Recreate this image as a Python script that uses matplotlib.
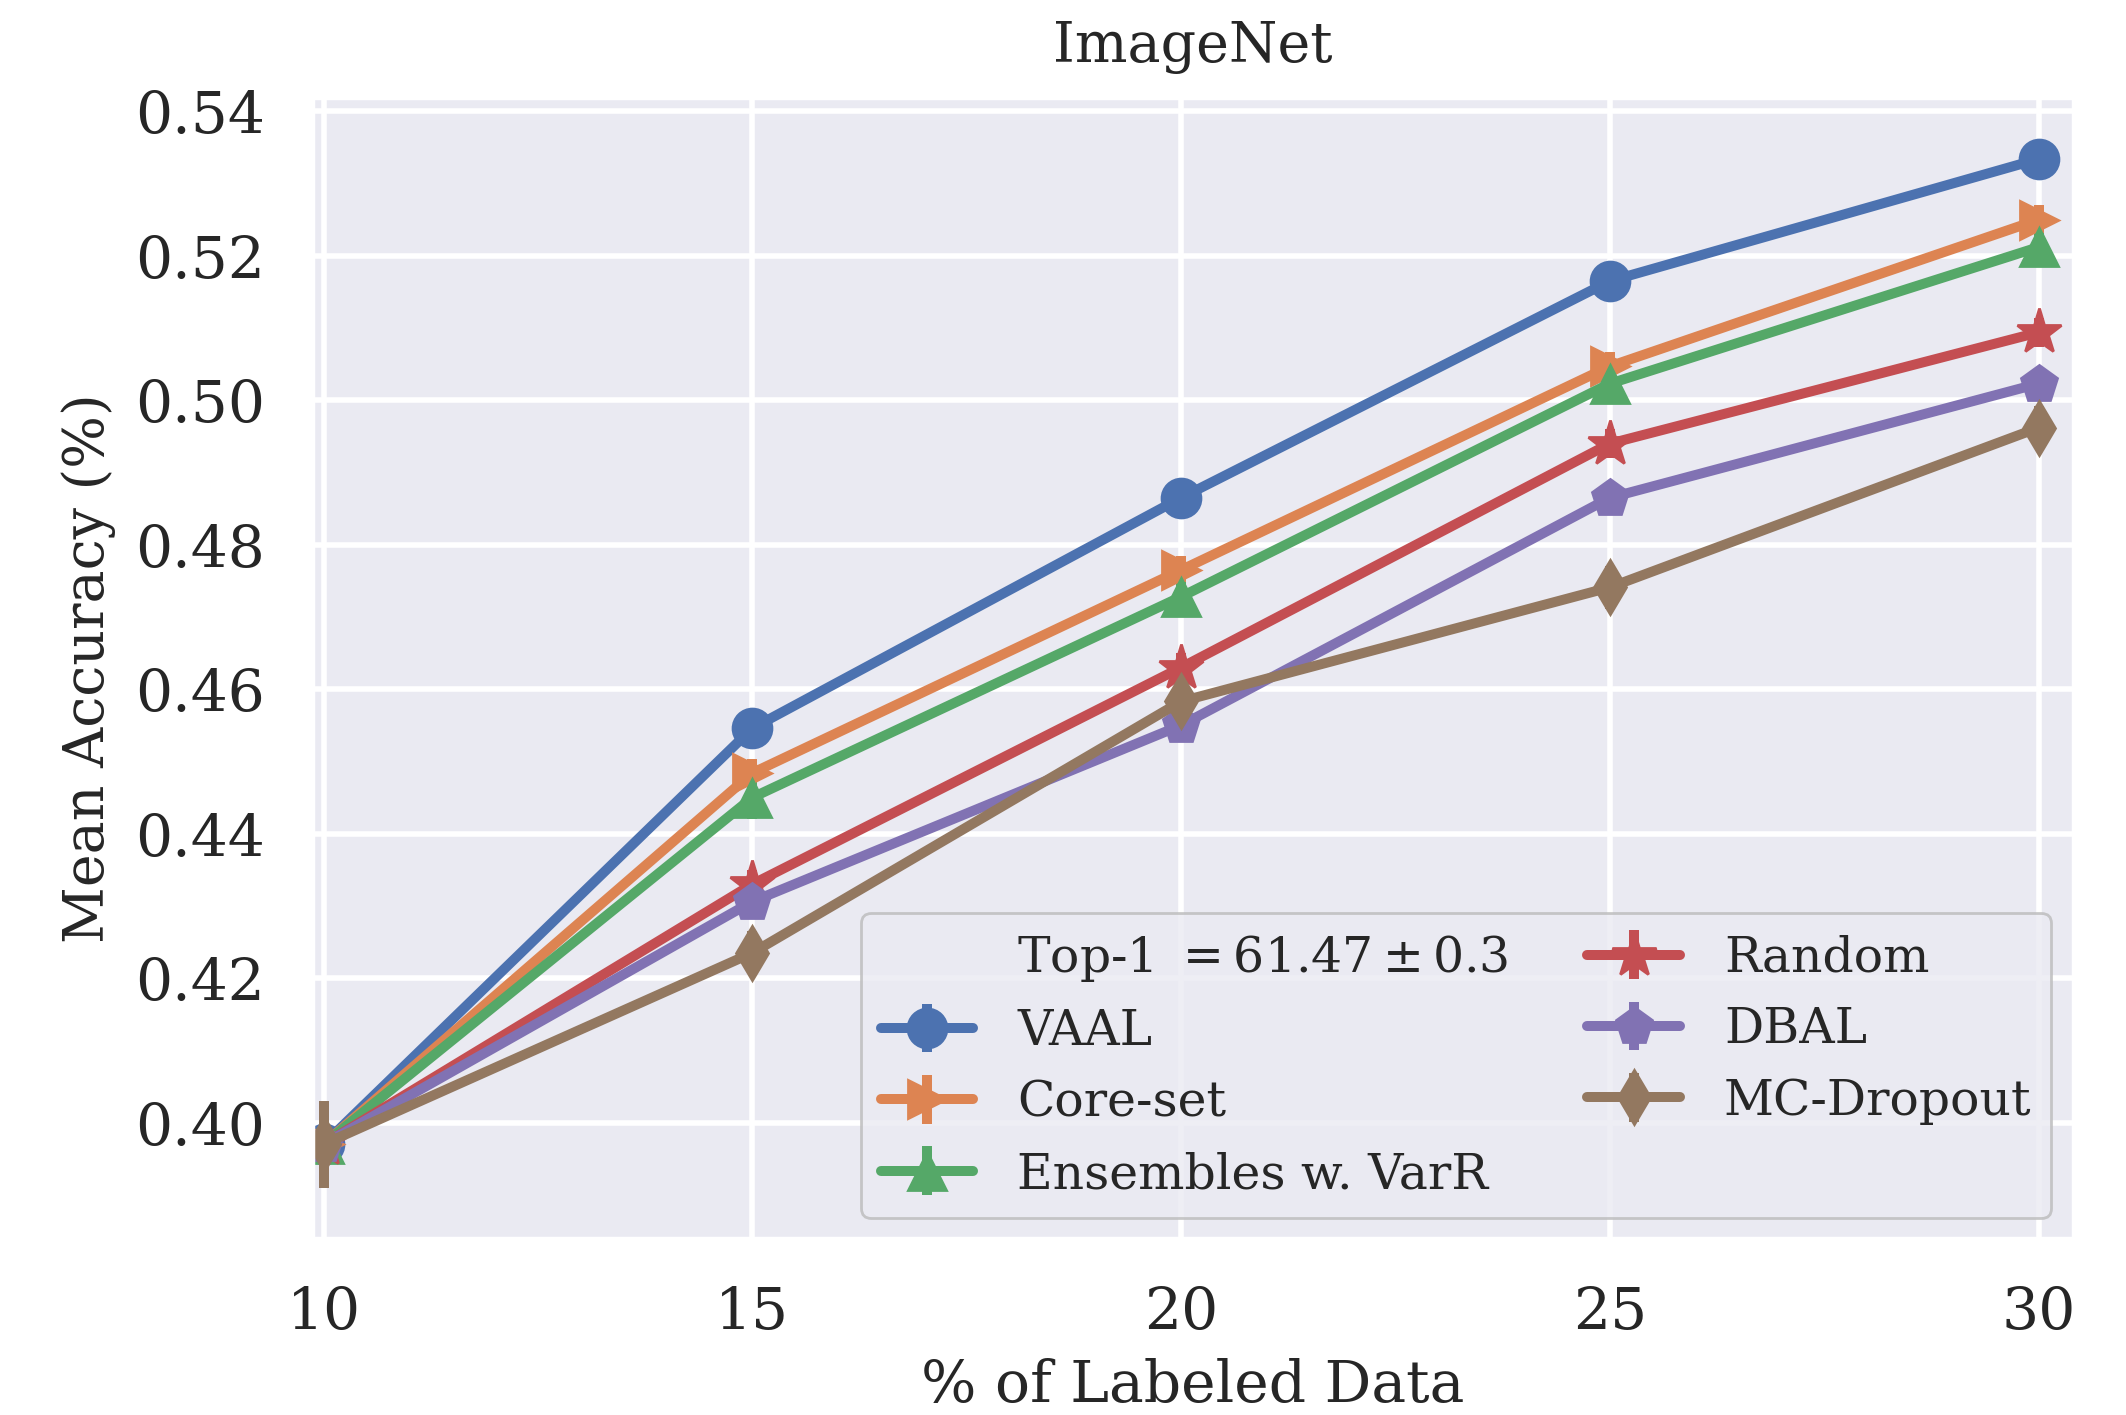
import matplotlib.pyplot as plt
import seaborn as sns

# Mean accuracy on ImageNet for each sampling method
budget = [10, 15, 20, 25, 30]
methods = ['VAAL', 'Core-set', 'Ensembles w. VarR', 'Random', 'DBAL', 'MC-Dropout']
markers = ['o', '>', '^', '*', 'p', 'd']

vaal = [0.397, 0.4546, 0.4865, 0.5165, 0.5334]
coreset = [0.397, 0.4484, 0.4765, 0.5047, 0.5250]
ensembles = [0.397, 0.4450, 0.4728, 0.5023, 0.5212]
random_s = [0.397, 0.4330, 0.4630, 0.4940, 0.5094]
dbal = [0.397, 0.4306, 0.4550, 0.4865, 0.5023]
mc_dropout = [0.397, 0.4235, 0.4583, 0.4741, 0.4962]

vaal_err = [0.003, 0.002, 0.002, 0.002, 0.002]
coreset_err = [0.003, 0.002, 0.002, 0.002, 0.002]
ensembles_err = [0.003, 0.003, 0.002, 0.002, 0.002]
random_err = [0.004, 0.002, 0.002, 0.002, 0.002]
dbal_err = [0.004, 0.002, 0.002, 0.002, 0.002]
mc_dropout_err = [0.006, 0.003, 0.003, 0.003, 0.003]

series = [vaal, coreset, ensembles, random_s, dbal, mc_dropout]
errors = [vaal_err, coreset_err, ensembles_err, random_err, dbal_err, mc_dropout_err]

sns.set_theme(style='darkgrid')
plt.rcParams['font.family'] = ['DejaVu Serif']
plt.rcParams['mathtext.fontset'] = 'dejavuserif'

fig = plt.figure(figsize=(10.63, 7.075), dpi=200)
ax = fig.add_axes([0.147, 0.125, 0.828, 0.806])
palette = sns.color_palette('deep')

# invisible entry that carries the full-data accuracy in the legend
ax.plot([], [], ' ', label=r'Top-1 $= 61.47 \pm 0.3$')

for i, (name, ys, err, m) in enumerate(zip(methods, series, errors, markers)):
    size = 17 if m == '*' else 14
    ax.errorbar(budget, ys, yerr=err, label=name, color=palette[i], marker=m,
                markersize=size, linewidth=3.6, elinewidth=3.6, capsize=0)

ax.set_xlim(9.87, 30.4)
ax.set_ylim(0.384, 0.5419)
ax.set_xticks(budget)
ax.set_yticks([0.40, 0.42, 0.44, 0.46, 0.48, 0.50, 0.52, 0.54])
ax.set_yticklabels(['0.40', '0.42', '0.44', '0.46', '0.48', '0.50', '0.52', '0.54'])
ax.tick_params(labelsize=21, colors='#262626', pad=11)
ax.grid(color='white', linewidth=2)

ax.set_title('ImageNet', fontsize=20, pad=13)
ax.set_xlabel('% of Labeled Data', fontsize=21, labelpad=6)
ax.set_ylabel('Mean Accuracy (%)', fontsize=20, labelpad=7)

leg = ax.legend(ncol=2, fontsize=17.6, loc='lower right', bbox_to_anchor=(0.9877, 0.018),
                borderaxespad=0, frameon=True, handlelength=1.9, columnspacing=1.6,
                labelspacing=0.5, handletextpad=0.9)
leg.get_frame().set_edgecolor('#bbbbbb')
leg.get_frame().set_facecolor('#EAEAF2')

plt.savefig('out.png', dpi=200)
